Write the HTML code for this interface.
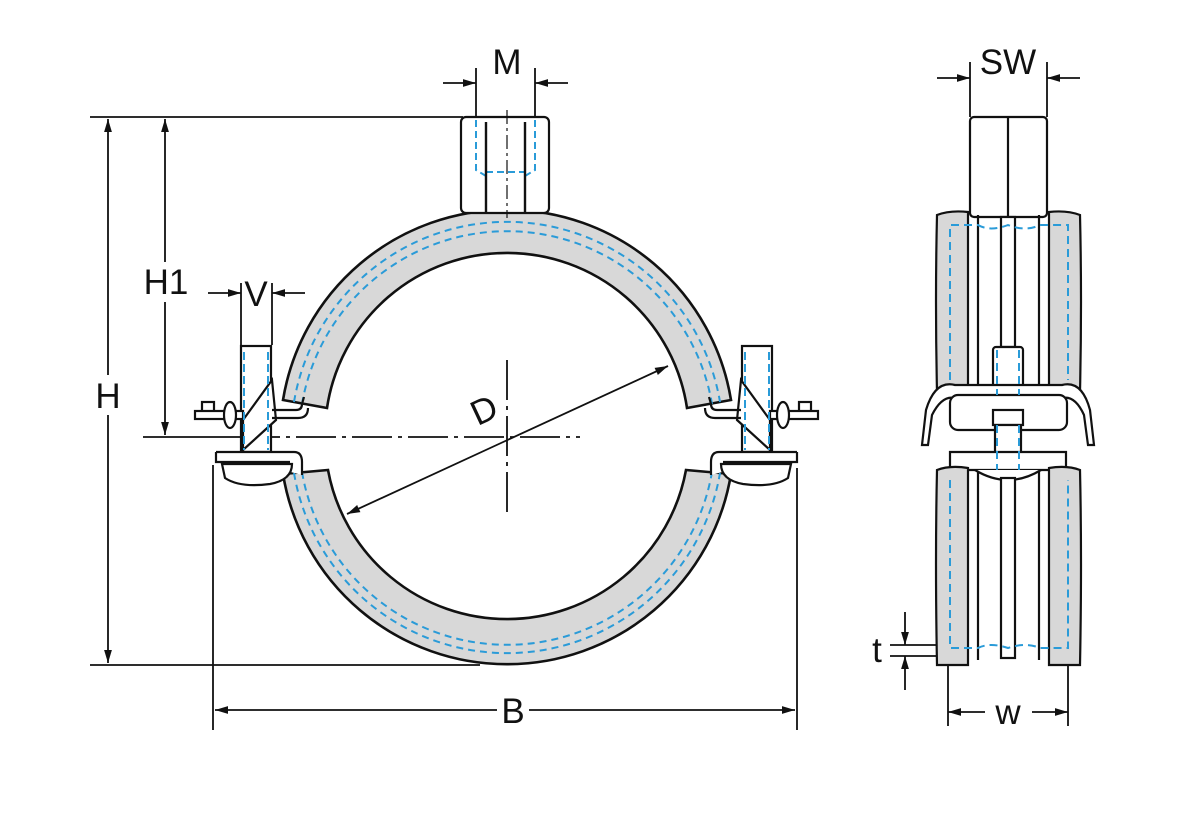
<!DOCTYPE html>
<html><head><style>
html,body{margin:0;padding:0;background:#fff;}
svg{display:block;}
text{font-family:"Liberation Sans",sans-serif;font-size:35px;fill:#111;}
</style></head><body>
<svg width="1200" height="821" viewBox="0 0 1200 821" xmlns="http://www.w3.org/2000/svg">
<defs>
<marker id="a" viewBox="0 0 10 6" refX="10" refY="3" markerWidth="13" markerHeight="8" orient="auto-start-reverse" markerUnits="userSpaceOnUse"><path d="M0,0 L10,3 L0,6 z" fill="#111"/></marker>
</defs>
<g stroke="#111" stroke-width="1.8" fill="none">
<line x1="90" y1="117" x2="463" y2="117"/>
<line x1="90" y1="665" x2="480" y2="665"/>
<line x1="143" y1="437" x2="240" y2="437"/>
<line x1="213" y1="465" x2="213" y2="730"/>
<line x1="797" y1="468" x2="797" y2="730"/>
<line x1="476" y1="68" x2="476" y2="117"/>
<line x1="535" y1="68" x2="535" y2="117"/>
<line x1="241" y1="283" x2="241" y2="345"/>
<line x1="272" y1="283" x2="272" y2="345"/>
<line x1="970" y1="62" x2="970" y2="117"/>
<line x1="1047" y1="62" x2="1047" y2="117"/>
<line x1="948" y1="665" x2="948" y2="726"/>
<line x1="1068" y1="665" x2="1068" y2="726"/>
<line x1="890" y1="645" x2="940" y2="645"/>
<line x1="890" y1="656" x2="940" y2="656"/>
<line x1="108" y1="119" x2="108" y2="663" marker-start="url(#a)" marker-end="url(#a)"/>
<line x1="165" y1="119" x2="165" y2="435" marker-start="url(#a)" marker-end="url(#a)"/>
<line x1="215" y1="710" x2="795" y2="710" marker-start="url(#a)" marker-end="url(#a)"/>
<line x1="443" y1="83" x2="476" y2="83" marker-end="url(#a)"/>
<line x1="568" y1="83" x2="535" y2="83" marker-end="url(#a)"/>
<line x1="208" y1="293" x2="241" y2="293" marker-end="url(#a)"/>
<line x1="305" y1="293" x2="272" y2="293" marker-end="url(#a)"/>
<line x1="937" y1="78" x2="970" y2="78" marker-end="url(#a)"/>
<line x1="1080" y1="78" x2="1047" y2="78" marker-end="url(#a)"/>
<line x1="948" y1="712" x2="985" y2="712" marker-start="url(#a)"/>
<line x1="1032" y1="712" x2="1068" y2="712" marker-end="url(#a)"/>
<line x1="905" y1="612" x2="905" y2="645" marker-end="url(#a)"/>
<line x1="905" y1="690" x2="905" y2="656" marker-end="url(#a)"/>
<line x1="347" y1="514" x2="668" y2="366" marker-start="url(#a)" marker-end="url(#a)"/>
<line x1="240" y1="437" x2="580" y2="437" stroke-dasharray="40,6,4,6"/>
<line x1="507" y1="360" x2="507" y2="512" stroke-dasharray="40,6,4,6"/>
</g>
<g stroke="#111" stroke-width="2.6" fill="#d8d8d8">
<path d="M283,400 A227,227 0 0 1 731,400 L687,408 A182,182 0 0 0 327,408 Z"/>
<path d="M283,474 A227,227 0 0 0 731,474 L686,470 A182,182 0 0 1 328,470 Z"/>
</g>
<g stroke="#2a9bd8" stroke-width="2" fill="none" stroke-dasharray="7,5">
<path d="M294,402 A216,216 0 0 1 720,402"/>
<path d="M302,404 A208,208 0 0 1 712,404"/>
<path d="M294,473 A216,216 0 0 0 720,473"/>
<path d="M302,472 A208,208 0 0 0 712,472"/>
</g>
<rect x="461" y="117" width="88" height="96" rx="5" fill="#fff" stroke="#111" stroke-width="2.2"/>
<g stroke="#2a9bd8" stroke-width="2" stroke-dasharray="7,4" fill="none">
<path d="M476,120 V170 L486,176 V212"/><path d="M535,120 V170 L525,176 V212"/>
<line x1="486" y1="172" x2="525" y2="172"/>
</g>
<line x1="486" y1="122" x2="486" y2="212" stroke="#111" stroke-width="2.4"/>
<line x1="525" y1="122" x2="525" y2="212" stroke="#111" stroke-width="2.4"/>
<line x1="507" y1="110" x2="507" y2="218" stroke="#111" stroke-width="1.2" stroke-dasharray="14,4,3,4"/>
<g id="br" stroke="#111" stroke-width="2.2" fill="#fff">
<rect x="241" y="346" width="30" height="106"/>
<path d="M243,420 L272,380 L276,420 L243,450 Z"/>
<rect x="202" y="402" width="12" height="12"/><rect x="195" y="411" width="48" height="8"/>
<ellipse cx="230" cy="415" rx="6" ry="13"/>
<path d="M272,410 H296 Q302,410 302,404 L304,397" fill="none"/>
<path d="M272,418 H298 Q308,418 308,408" fill="none"/>
<path d="M216,452 H294 Q302,452 302,462 V475 M216,452 V462 H290" />
<path d="M222,464 H292 Q292,480 270,484 Q240,488 225,478 Z"/>
</g>
<g stroke="#2a9bd8" stroke-width="2" stroke-dasharray="8,4"><line x1="244" y1="352" x2="244" y2="450"/><line x1="268" y1="352" x2="268" y2="450"/></g>
<use href="#br" transform="translate(1013,0) scale(-1,1)"/>
<g stroke="#2a9bd8" stroke-width="2" stroke-dasharray="8,4"><line x1="745" y1="352" x2="745" y2="450"/><line x1="769" y1="352" x2="769" y2="450"/></g>
<g stroke="#111" stroke-width="2.2" fill="#fff">
<rect x="970" y="117" width="77" height="100" rx="4"/>
<line x1="1008" y1="117" x2="1008" y2="217"/>
<path d="M937,215 Q950,210 968,212 V392 H937 Q935,300 937,215 Z" fill="#d8d8d8"/>
<path d="M1080,215 Q1067,210 1049,212 V392 H1080 Q1082,300 1080,215 Z" fill="#d8d8d8"/>
<line x1="978" y1="215" x2="978" y2="392"/><line x1="1039" y1="215" x2="1039" y2="392"/>
<rect x="1001" y="217" width="14" height="130"/>
<rect x="993" y="347" width="30" height="50" rx="3"/>
<path d="M922,445 L926,410 Q935,380 955,385 L1062,385 Q1082,380 1090,410 L1094,445 L1088,445 L1084,415 Q1075,395 1062,398 H955 Q942,395 932,415 L928,445 Z"/>
<rect x="950" y="395" width="117" height="35" rx="8"/>
<rect x="993" y="410" width="30" height="15"/>
<rect x="995" y="425" width="26" height="45"/>
<path d="M950,452 H1066 V470 H950 Z"/>
<path d="M937,470 Q950,465 968,468 V665 H937 Q935,560 937,470 Z" fill="#d8d8d8"/>
<path d="M1080,470 Q1067,465 1049,468 V665 H1080 Q1082,560 1080,470 Z" fill="#d8d8d8"/>
<line x1="978" y1="470" x2="978" y2="660"/><line x1="1039" y1="470" x2="1039" y2="660"/>
<path d="M975,470 Q1008,490 1041,470" />
<rect x="1001" y="478" width="14" height="180"/>
</g>
<g stroke="#2a9bd8" stroke-width="2" stroke-dasharray="8,5" fill="none">
<path d="M950,380 V225 H978 Q990,232 1008,225 Q1026,232 1040,225 H1068 V380"/>
<path d="M950,480 V648 H978 Q990,642 1008,648 Q1026,642 1040,648 H1068 V480"/>
<line x1="997" y1="350" x2="997" y2="395"/><line x1="1019" y1="350" x2="1019" y2="395"/>
<line x1="997" y1="425" x2="997" y2="470"/><line x1="1019" y1="425" x2="1019" y2="470"/>
</g>
<g>
<rect x="92" y="375" width="32" height="40" fill="#fff"/>
<text x="108" y="408" text-anchor="middle">H</text>
<rect x="140" y="262" width="52" height="40" fill="#fff"/>
<text x="166" y="294" text-anchor="middle">H1</text>
<text x="507" y="74" text-anchor="middle">M</text>
<text x="256" y="306" text-anchor="middle">V</text>
<rect x="497" y="692" width="32" height="38" fill="#fff"/>
<text x="513" y="723" text-anchor="middle">B</text>
<text x="1008" y="74" text-anchor="middle">SW</text>
<text x="1008" y="724" text-anchor="middle">w</text>
<text x="877" y="662" text-anchor="middle">t</text>
<text x="484" y="422" text-anchor="middle" transform="rotate(-25 484 410)">D</text>
</g>
</svg>
</body></html>
